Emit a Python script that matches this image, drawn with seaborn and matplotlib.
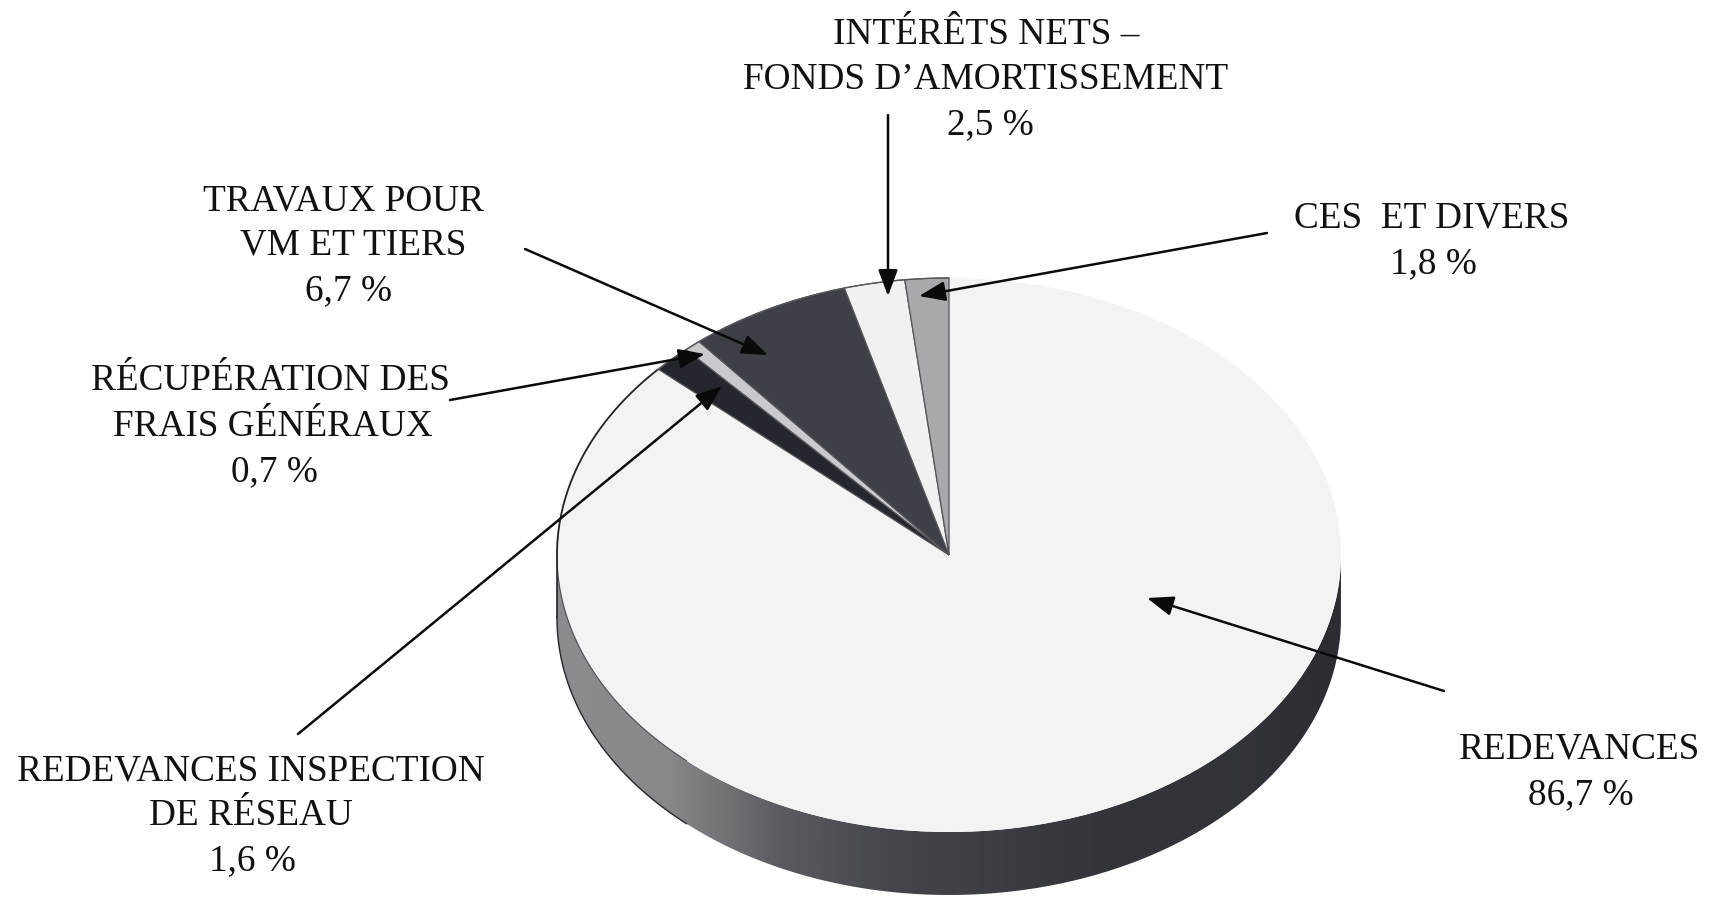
import numpy as np
import matplotlib
matplotlib.use("Agg")
import matplotlib.pyplot as plt
from matplotlib.patches import PathPatch
from matplotlib.path import Path
import seaborn as sns

# --- data ---
categories = ["REDEVANCES", "REDEVANCES INSPECTION DE RÉSEAU", "RÉCUPÉRATION DES FRAIS GÉNÉRAUX",
              "TRAVAUX POUR VM ET TIERS", "INTÉRÊTS NETS – FONDS D’AMORTISSEMENT", "CES ET DIVERS"]
values = [86.7, 1.6, 0.7, 6.7, 2.5, 1.8]
colors = ["#f3f3f3", "#26262e", "#c9c9ce", "#3f3f48", "#f1f1f1", "#a9a9ab"]
side_stops = ["#8c8c90", "#88888c", "#5a5a60", "#45454c", "#3c3c43", "#33333a", "#34343b", "#2c2c32"]

W, H = 1712, 897
CX, CY, RX, RY, DEPTH = 949, 555, 392, 277, 63

sns.set_theme(style="white")
plt.rcParams["font.family"] = ["Liberation Serif", "DejaVu Serif"]

fig = plt.figure(figsize=(W / 100, H / 100), dpi=100, facecolor="white")
ax = fig.add_axes([0, 0, 1, 1])

wedges, _ = ax.pie(values, colors=colors, startangle=90, counterclock=False, radius=1,
                   center=(0, 0), wedgeprops=dict(linewidth=0.9, edgecolor="#55555a"))
wedges[0].set_edgecolor("none")
ax.set_aspect("auto")
xlim = (-CX / RX, (W - CX) / RX)
ylim = ((CY - H) / RY, CY / RY)

# extruded side of the pie
t = np.linspace(np.pi, 2 * np.pi, 300)
xs, ys = np.cos(t), np.sin(t)
d = DEPTH / RY
verts = np.vstack([np.c_[xs, ys], np.c_[xs[::-1], ys[::-1] - d], [[xs[0], ys[0]]]])
clip = PathPatch(Path(verts), transform=ax.transData, facecolor="none", edgecolor="none")
ax.add_patch(clip)
cmap = sns.blend_palette(side_stops, as_cmap=True)
grad = np.linspace(0, 1, 512)[None, :]
im = ax.imshow(grad, extent=(-1, 1, -1 - d, 0), cmap=cmap, aspect="auto", zorder=0.5)
im.set_clip_path(clip)

# outline of the upper-left rim and lower-left rim
a = np.linspace(np.radians(90 + 48), np.pi, 120)
ax.plot(np.cos(a), np.sin(a), color="#222226", lw=1.3, zorder=3)
a2 = np.linspace(np.pi, np.radians(228), 120)
ax.plot(np.cos(a2), np.sin(a2), color="#4a4a50", lw=0.8, zorder=3)
ax.plot(np.cos(a2), np.sin(a2) - d, color="#26262a", lw=1.0, zorder=3)
ax.plot([-1, -1], [0, -d], color="#222226", lw=1.2, zorder=3)
a3 = np.linspace(np.radians(90), np.radians(138), 60)
ax.plot(np.cos(a3), np.sin(a3), color="#55555a", lw=0.9, zorder=3)

ax.set_xlim(*xlim)
ax.set_ylim(*ylim)
ax.axis("off")

# overlay in pixel coordinates for labels and leader arrows
ov = fig.add_axes([0, 0, 1, 1], facecolor="none")
ov.set_xlim(0, W)
ov.set_ylim(H, 0)
ov.axis("off")

label_lines = [
    ("INTÉRÊTS NETS –", 986, 35), ("FONDS D’AMORTISSEMENT", 986, 80), ("2,5 %", 990, 125),
    ("CES  ET DIVERS", 1432, 218), ("1,8 %", 1433, 264),
    ("TRAVAUX POUR", 344, 201), ("VM ET TIERS", 353, 245), ("6,7 %", 349, 291),
    ("RÉCUPÉRATION DES", 270, 381), ("FRAIS GÉNÉRAUX", 273, 427), ("0,7 %", 274, 472),
    ("REDEVANCES INSPECTION", 251, 771), ("DE RÉSEAU", 251, 816), ("1,6 %", 252, 861),
    ("REDEVANCES", 1580, 749), ("86,7 %", 1581, 795),
]
for s, x, y in label_lines:
    ov.text(x, y, s, ha="center", va="center", fontsize=26.8, color="#111111")

arrows = [
    ((888, 115), (888, 296)),
    ((1267, 233), (919, 296)),
    ((525, 249), (768, 355)),
    ((450, 400), (705, 354)),
    ((298, 734), (722, 386)),
    ((1444, 691), (1147, 598)),
]
for start, tip in arrows:
    ov.annotate("", xy=tip, xytext=start,
                arrowprops=dict(arrowstyle="-|>,head_length=0.8,head_width=0.3", color="#0a0a0a",
                                lw=1.8, shrinkA=0, shrinkB=0, mutation_scale=20))

fig.savefig("out.png", dpi=100, facecolor="white")
